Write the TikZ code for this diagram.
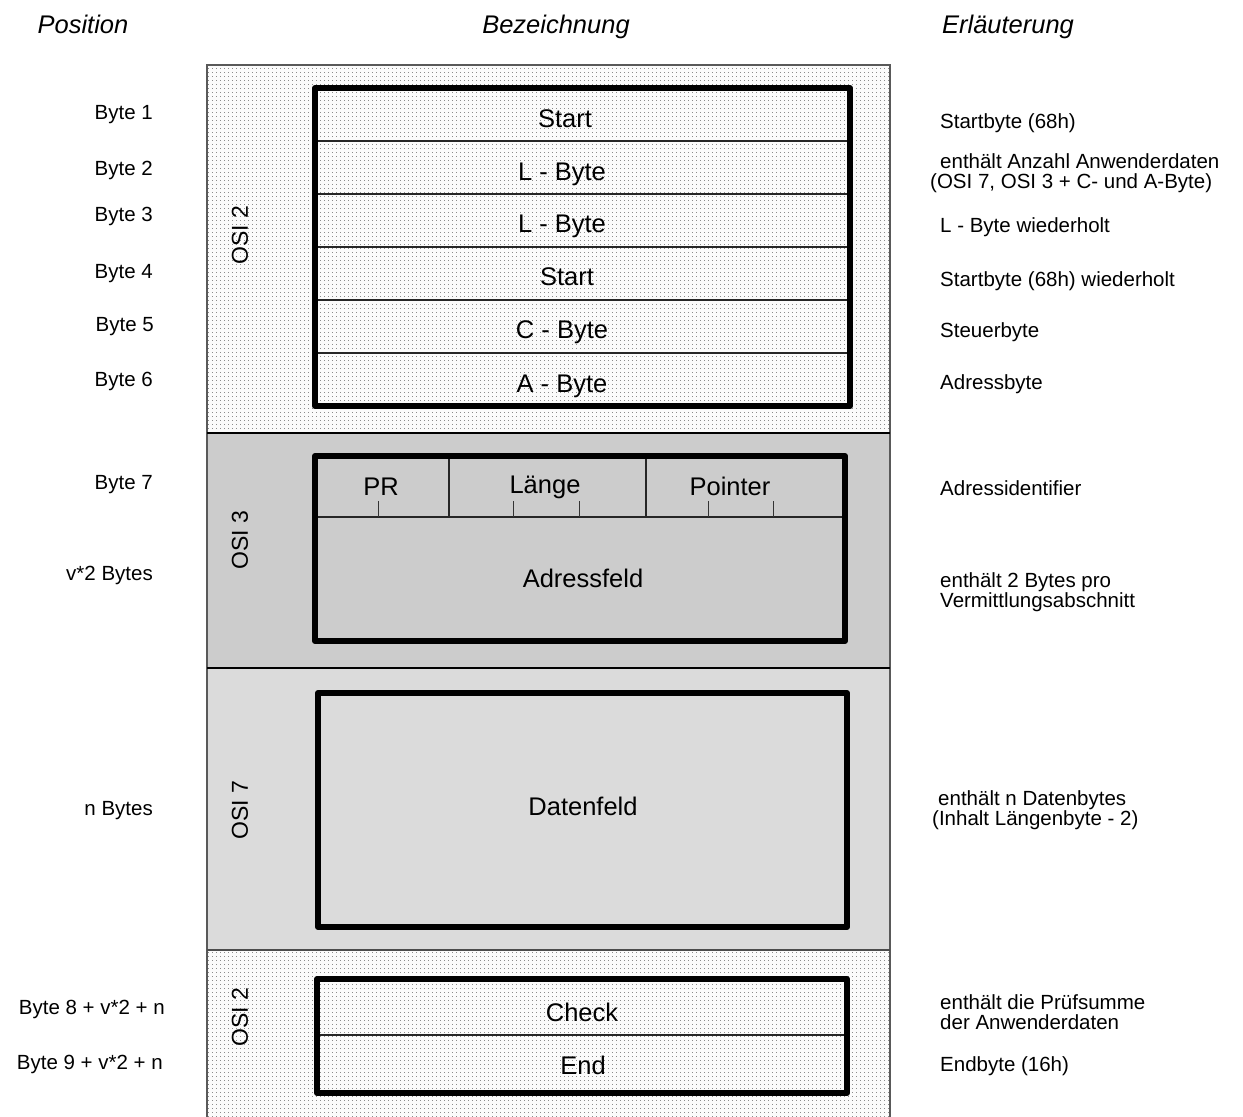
\documentclass[tikz,border=0pt]{standalone}
\usepackage{fontspec}
\setmainfont{Liberation Sans}
\usetikzlibrary{patterns}

% sparse grey dot raster for the OSI 2 sections
\pgfdeclarepatternformonly{sparsedots}{\pgfpointorigin}{\pgfpoint{1pt}{1pt}}{\pgfpoint{4pt}{4pt}}%
  {\pgfpathrectangle{\pgfpointorigin}{\pgfpoint{1pt}{1pt}}\pgfusepath{fill}}

\definecolor{layertwo}{gray}{0.985}
\definecolor{layerthree}{gray}{0.80}
\definecolor{layerseven}{gray}{0.86}
\definecolor{rimgray}{gray}{0.35}

\begin{document}
\begin{tikzpicture}[x=1pt,y=-1pt,
  headtxt/.style={font=\fontsize{25.5}{30}\itshape, inner sep=0pt, anchor=base},
  fieldtxt/.style={font=\fontsize{25.5}{30}\selectfont, inner sep=0pt, anchor=base},
  postxt/.style={font=\fontsize{20.5}{24}\selectfont, inner sep=0pt, anchor=base east},
  notetxt/.style={font=\fontsize{20.5}{24}\selectfont, inner sep=0pt, anchor=base west},
  layertxt/.style={font=\fontsize{23}{26}\selectfont, inner sep=0pt, rotate=90},
  framebox/.style={line width=6pt, line join=round, draw=black},
  rowline/.style={line width=1.1pt, draw=black!85},
  tick/.style={line width=1pt, draw=black!80}]

\useasboundingbox (0,0) rectangle (1243,1117);

% layer bands
\fill[layertwo] (207,65) rectangle (890,433);
\fill[pattern=sparsedots, pattern color=black!45] (207,65) rectangle (890,433);
\fill[layerthree] (207,433) rectangle (890,668);
\fill[layerseven] (207,668) rectangle (890,950);
\fill[layertwo] (207,950) rectangle (890,1117);
\fill[pattern=sparsedots, pattern color=black!45] (207,950) rectangle (890,1117);

% band outline (open at the bottom) and separators
\draw[line width=1.1pt, rimgray] (207,1117) -- (207,65) -- (890,65) -- (890,1117);
\draw[line width=1.1pt, black] (207,433) -- (890,433);
\draw[line width=1.1pt, black] (207,668) -- (890,668);
\draw[line width=1.1pt, black!70] (207,950) -- (890,950);

% column headings
\node[headtxt] (hpos) at (83,33) {Position};
\node[headtxt] (hbez) at (556,33) {Bezeichnung};
\node[headtxt] (herl) at (1008,33) {Erläuterung};

% ---------- OSI 2 header frame ----------
\node[layertxt] (osiA) at (240,235) {OSI 2};
\draw[rowline] (315,141) -- (850,141);
\draw[rowline] (315,194) -- (850,194);
\draw[rowline] (315,247) -- (850,247);
\draw[rowline] (315,300) -- (850,300);
\draw[rowline] (315,353) -- (850,353);
\draw[framebox] (315,88) rectangle (850,406);
\node[fieldtxt] (fStartA) at (565,127) {Start};
\node[fieldtxt] (fLA) at (562,180) {L - Byte};
\node[fieldtxt] (fLB) at (562,232) {L - Byte};
\node[fieldtxt] (fStartB) at (567,285) {Start};
\node[fieldtxt] (fC) at (562,338) {C - Byte};
\node[fieldtxt] (fA) at (562,392) {A - Byte};

% ---------- OSI 3 address field ----------
\node[layertxt] (osiB) at (240,540) {OSI 3};
\draw[rowline] (315,517) -- (845,517);
\draw[rowline] (449,456) -- (449,517);
\draw[rowline] (646,456) -- (646,517);
\foreach \tx [count=\i] in {378,513,579,708,773}
  \draw[tick] (\tx,501) -- (\tx,517);
\draw[framebox] (315,456) rectangle (845,641);
\node[fieldtxt] (fPR) at (381,495) {PR};
\node[fieldtxt] (fLen) at (545,493) {Länge};
\node[fieldtxt] (fPtr) at (730,495) {Pointer};
\node[fieldtxt] (fAdr) at (583,587) {Adressfeld};

% ---------- OSI 7 data field ----------
\node[layertxt] (osiC) at (240,810) {OSI 7};
\draw[framebox] (318,693) rectangle (847,927);
\node[fieldtxt] (fDat) at (583,815) {Datenfeld};

% ---------- OSI 2 trailer frame ----------
\node[layertxt] (osiD) at (240,1017) {OSI 2};
\draw[rowline] (317,1035) -- (847,1035);
\draw[framebox] (317,979) rectangle (847,1093);
\node[fieldtxt] (fChk) at (582,1021) {Check};
\node[fieldtxt] (fEnd) at (583,1074) {End};

% ---------- byte positions ----------
\node[postxt] (p1) at (153,119) {Byte 1};
\node[postxt] (p2) at (153,175) {Byte 2};
\node[postxt] (p3) at (153,221) {Byte 3};
\node[postxt] (p4) at (153,278) {Byte 4};
\node[postxt] (p5) at (154,331) {Byte 5};
\node[postxt] (p6) at (153,386) {Byte 6};
\node[postxt] (p7) at (153,489) {Byte 7};
\node[postxt] (pv) at (153,580) {v*2 Bytes};
\node[postxt] (pn) at (153,815) {n Bytes};
\node[postxt] (p8) at (165,1014) {Byte 8 + v*2 + n};
\node[postxt] (p9) at (163,1069) {Byte 9 + v*2 + n};

% ---------- explanations ----------
\node[notetxt] (e1) at (940,128) {Startbyte (68h)};
\node[notetxt] (e2a) at (940,168) {enthält Anzahl Anwenderdaten};
\node[notetxt] (e2b) at (930,188) {(OSI 7, OSI 3 + C- und A-Byte)};
\node[notetxt] (e3) at (940,232) {L - Byte wiederholt};
\node[notetxt] (e4) at (940,286) {Startbyte (68h) wiederholt};
\node[notetxt] (e5) at (940,337) {Steuerbyte};
\node[notetxt] (e6) at (940,389) {Adressbyte};
\node[notetxt] (e7) at (940,495) {Adressidentifier};
\node[notetxt] (ev1) at (940,587) {enthält 2 Bytes pro};
\node[notetxt] (ev2) at (940,607) {Vermittlungsabschnitt};
\node[notetxt] (en1) at (938,805) {enthält n Datenbytes};
\node[notetxt] (en2) at (932,825) {(Inhalt Längenbyte - 2)};
\node[notetxt] (ec1) at (940,1009) {enthält die Prüfsumme};
\node[notetxt] (ec2) at (940,1029) {der Anwenderdaten};
\node[notetxt] (ee) at (940,1071) {Endbyte (16h)};
\end{tikzpicture}
\end{document}
